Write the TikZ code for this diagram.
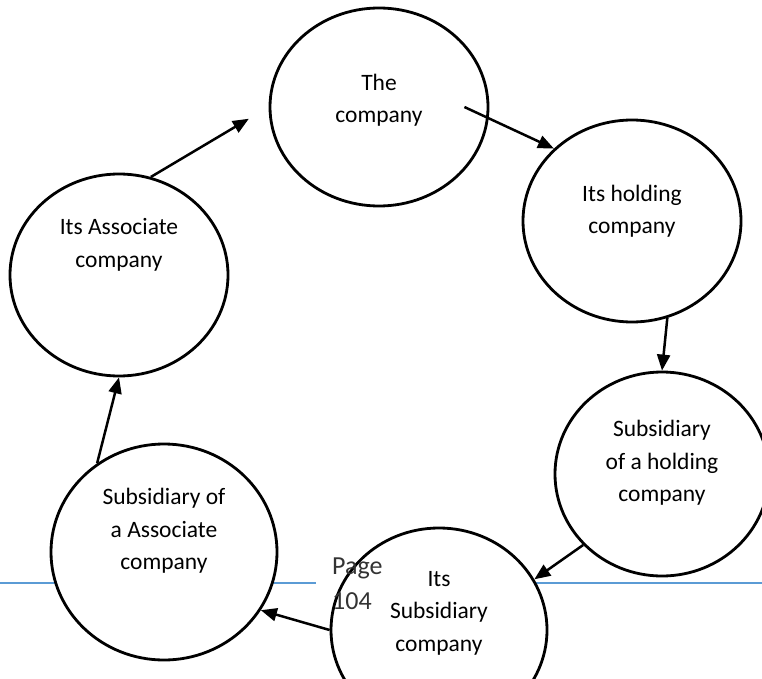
\documentclass[tikz,border=0pt]{standalone}
\usepackage{fontspec}
\setmainfont{Carlito}
\usepackage{tikz}
\usetikzlibrary{arrows.meta,shapes.geometric}
\definecolor{footerblue}{RGB}{91,155,213}

\begin{document}
\begin{tikzpicture}[
    x=1pt, y=-1pt,
    firm/.style={ellipse, draw, line width=2.8pt, fill=white, inner sep=0pt},
    firmtext/.style={align=center, font=\fontsize{23.5}{32.5}\selectfont, inner sep=0pt},
    link/.style={line width=2.5pt, -{Triangle[length=16pt,width=13pt]}},
    ]
\clip (0,0) rectangle (762,679);

% footer rule of the page, showing behind the chart
\draw[footerblue, line width=1.5pt] (0,583) -- (316,583);
\draw[footerblue, line width=1.5pt] (440,583) -- (762,583);

\node[firm, minimum width=218pt, minimum height=198pt,
      label={[firmtext, yshift=7pt]center:The\\company}] (c1) at (379,107) {};
\node[firm, minimum width=218pt, minimum height=202pt,
      label={[firmtext, yshift=10pt]center:Its holding\\company}] (c2) at (632,221) {};
\node[firm, minimum width=214pt, minimum height=204pt,
      label={[firmtext, yshift=11pt]center:Subsidiary\\of a holding\\company}] (c3) at (662,474) {};
\node[firm, minimum width=216pt, minimum height=204pt,
      label={[firmtext, yshift=17pt]center:Its\\Subsidiary\\company}] (c4) at (439,630) {};
\node[firm, minimum width=226pt, minimum height=216pt,
      label={[firmtext, yshift=21pt]center:Subsidiary of\\a Associate\\company}] (c5) at (164,552) {};
\node[firm, minimum width=218pt, minimum height=202pt,
      label={[firmtext, yshift=30pt]center:Its Associate\\company}] (c6) at (119,275) {};

% page number of the footer, printed over the chart
\node[anchor=north west, inner sep=0pt, align=left, text=black!80,
      font=\fontsize{26}{35}\selectfont] (pg) at (332,558) {Page\\104};

\draw[link] ([xshift=-25pt]c1.east) -- (c2.north west);
\draw[link] (c2.-70) -- (c3.north);
\draw[link] (c3.-138) -- (c4.28);
\draw[link] (c4.west) -- (c5.-31);
\draw[link] (c5.127) -- (c6.south);
\draw[link, shorten >=23pt] (c6.72) -- (c1.west);
\end{tikzpicture}
\end{document}
